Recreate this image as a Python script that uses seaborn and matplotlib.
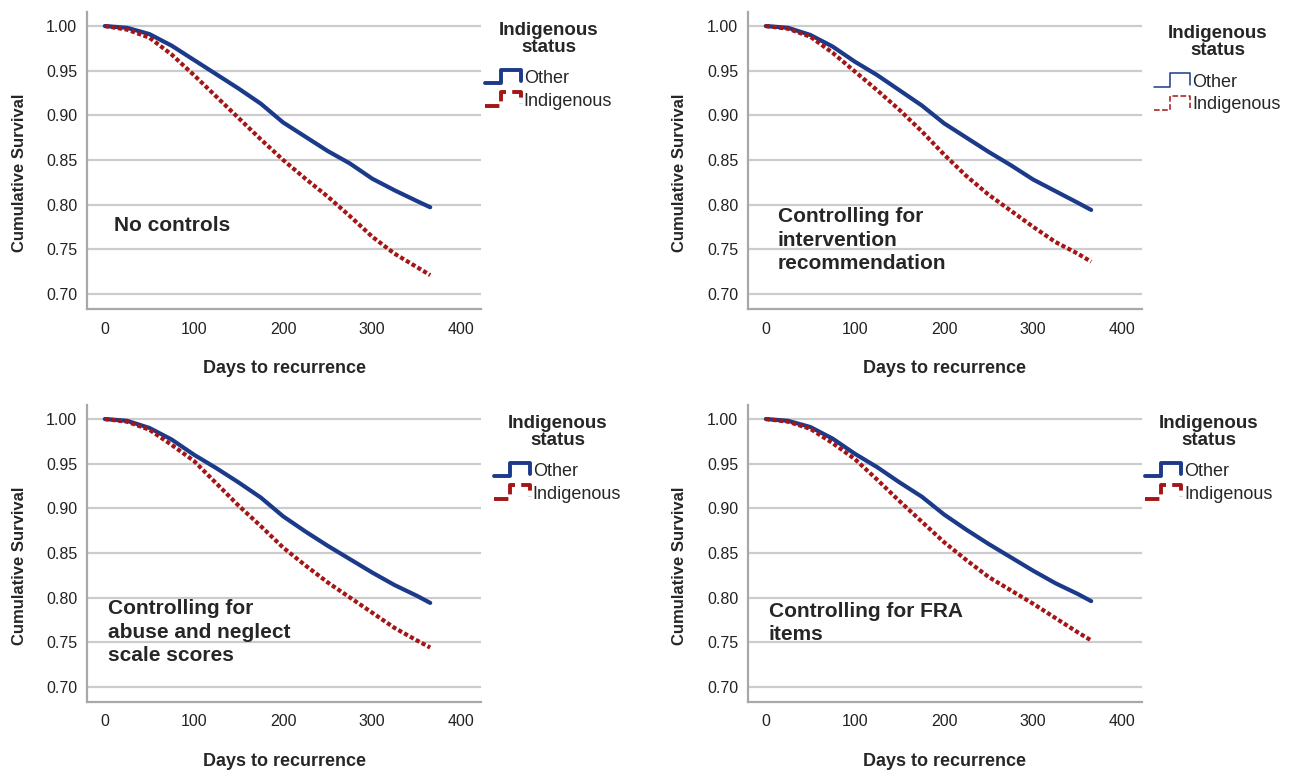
import numpy as np
import pandas as pd
import matplotlib
matplotlib.use("Agg")
import matplotlib.pyplot as plt
from matplotlib.lines import Line2D
from matplotlib.legend_handler import HandlerBase
import seaborn as sns

days = [0, 25, 50, 75, 100, 125, 150, 175, 200, 225, 250, 275, 300, 325, 350, 365]

# Panel 1: no controls
p1_other = [1.000, 0.998, 0.991, 0.978, 0.962, 0.946, 0.930, 0.913, 0.892, 0.876, 0.860, 0.846, 0.829, 0.816, 0.804, 0.797]
p1_indig = [1.000, 0.996, 0.987, 0.968, 0.945, 0.921, 0.897, 0.873, 0.850, 0.829, 0.809, 0.787, 0.764, 0.745, 0.730, 0.721]

# Panel 2: controlling for intervention recommendation
p2_other = [1.000, 0.998, 0.990, 0.977, 0.960, 0.945, 0.928, 0.911, 0.891, 0.875, 0.859, 0.844, 0.828, 0.815, 0.802, 0.794]
p2_indig = [1.000, 0.997, 0.988, 0.970, 0.949, 0.928, 0.906, 0.882, 0.856, 0.832, 0.811, 0.793, 0.775, 0.758, 0.745, 0.736]

# Panel 3: controlling for abuse and neglect scale scores
p3_other = [1.000, 0.998, 0.990, 0.977, 0.960, 0.945, 0.929, 0.912, 0.891, 0.874, 0.858, 0.843, 0.828, 0.814, 0.802, 0.794]
p3_indig = [1.000, 0.997, 0.988, 0.971, 0.953, 0.928, 0.903, 0.880, 0.856, 0.836, 0.817, 0.800, 0.783, 0.766, 0.752, 0.744]

# Panel 4: controlling for FRA items
p4_other = [1.000, 0.998, 0.991, 0.978, 0.961, 0.946, 0.929, 0.913, 0.893, 0.876, 0.860, 0.845, 0.830, 0.816, 0.804, 0.796]
p4_indig = [1.000, 0.997, 0.989, 0.973, 0.955, 0.932, 0.908, 0.885, 0.862, 0.842, 0.823, 0.808, 0.793, 0.777, 0.761, 0.752]

groups = ["Other", "Indigenous"]
panel_notes = ["No controls",
               "Controlling for\nintervention\nrecommendation",
               "Controlling for\nabuse and neglect\nscale scores",
               "Controlling for FRA\nitems"]
panel_data = [(p1_other, p1_indig), (p2_other, p2_indig),
              (p3_other, p3_indig), (p4_other, p4_indig)]

# where each note sits (x in days, y = top of text)
note_xy = [(10, 0.7872), (13.5, 0.7975), (3.4, 0.7985), (3.4, 0.7955)]
# legend anchor in axes fraction
legend_xy = [(1.010, 0.968), (1.030, 0.955), (1.033, 0.968), (1.008, 0.968)]

sns.set_style("white")
plt.rcParams["font.family"] = ["Liberation Sans", "DejaVu Sans"]

blue = "#1c3a8a"
red = "#a51515"


class StepHandler(HandlerBase):
    # SPSS-style legend key: a little step
    def create_artists(self, legend, orig_handle, xdescent, ydescent,
                       width, height, fontsize, trans):
        x0, y0 = -xdescent, -ydescent
        lo, hi = y0 + 0.0 * height, y0 + 1.05 * height
        xs = [x0, x0 + 0.45 * width, x0 + 0.45 * width, x0 + width, x0 + width]
        ys = [lo, lo, hi, hi, lo + 0.15 * height]
        ln = Line2D(xs, ys, color=orig_handle.get_color(),
                    linewidth=orig_handle.get_linewidth(),
                    linestyle=orig_handle.get_linestyle())
        ln.set_transform(trans)
        return [ln]


fig = plt.figure(figsize=(12.93, 7.71), dpi=100)
axes_pos = [(0.0673, 0.5992), (0.5785, 0.5992), (0.0673, 0.0895), (0.5785, 0.0895)]
ylabel_x = [-0.152, -0.154, -0.152, -0.154]

for i, ((other, indig), note) in enumerate(zip(panel_data, panel_notes)):
    ax = fig.add_axes([axes_pos[i][0], axes_pos[i][1], 0.3047, 0.3852])
    df = pd.DataFrame({
        "Days": days * 2,
        "Survival": other + indig,
        "Indigenous status": [groups[0]] * len(days) + [groups[1]] * len(days),
    })
    sns.lineplot(data=df, x="Days", y="Survival", hue="Indigenous status",
                 style="Indigenous status", palette=[blue, red],
                 dashes=["", (1, 0.6)], linewidth=3.0,
                 ax=ax, legend=False)
    ax.set_xlim(-20, 422)
    ax.set_ylim(0.683, 1.0157)
    ax.set_xticks([0, 100, 200, 300, 400])
    ax.set_yticks([0.70, 0.75, 0.80, 0.85, 0.90, 0.95, 1.00])
    ax.set_yticklabels([f"{v:.2f}" for v in ax.get_yticks()])
    ax.tick_params(length=0, labelsize=11.5, labelcolor="#222222")
    ax.tick_params(axis="y", pad=7)
    ax.tick_params(axis="x", pad=9)
    ax.grid(axis="y", color="#cccccc", linewidth=1.6)
    ax.set_axisbelow(True)
    for s in ["top", "right"]:
        ax.spines[s].set_visible(False)
    for s in ["left", "bottom"]:
        ax.spines[s].set_color("#a8a8a8")
        ax.spines[s].set_linewidth(1.6)
    ax.set_xlabel("Days to recurrence", fontsize=13, fontweight="bold", labelpad=17)
    ax.set_ylabel("Cumulative Survival", fontsize=12, fontweight="bold")
    ax.yaxis.set_label_coords(ylabel_x[i], 0.458)

    # note inside the panel
    ax.text(note_xy[i][0], note_xy[i][1], note, fontsize=15, fontweight="bold",
            va="top", ha="left", linespacing=1.32)

    thin = (i == 1)
    lw = 1.1 if thin else 2.8
    h_other = Line2D([], [], color=blue, linewidth=lw)
    h_indig = Line2D([], [], color=red, linewidth=lw,
                     linestyle=(0, (3, 2)) if thin else (0, (1, 0.6)))
    leg = ax.legend([h_other, h_indig], groups, title="Indigenous\nstatus",
                    loc="upper left", bbox_to_anchor=legend_xy[i],
                    frameon=False, fontsize=13, handlelength=2.0,
                    handleheight=0.75, handletextpad=0.15, borderaxespad=0,
                    borderpad=0, labelspacing=0.3,
                    handler_map={Line2D: StepHandler()})
    leg.get_title().set_fontweight("bold")
    leg.get_title().set_fontsize(13.5)
    leg.get_title().set_multialignment("center")
    leg.get_title().set_linespacing(1.0)
    leg._legend_box.sep = 10.5

fig.savefig("out.png", dpi=100)
